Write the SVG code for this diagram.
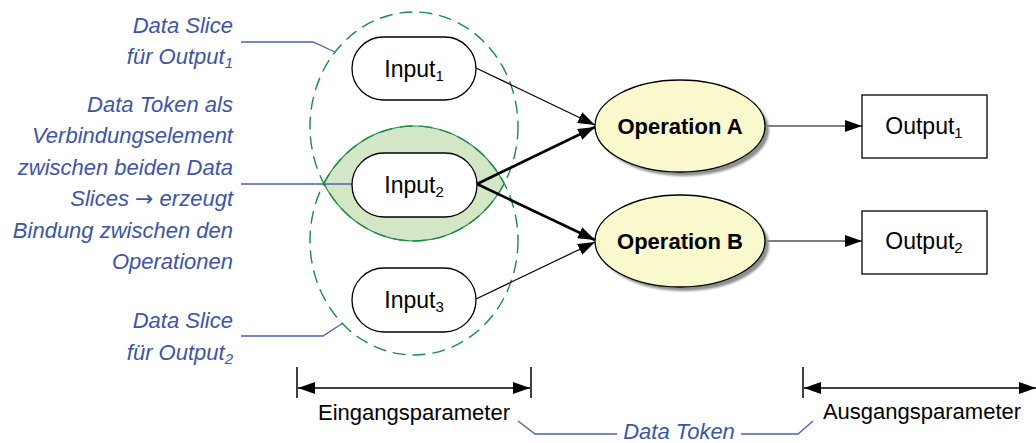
<svg xmlns="http://www.w3.org/2000/svg" width="1036" height="443" viewBox="0 0 1036 443">
  <style>
    .lbl { font-family: "Liberation Sans", Arial, sans-serif; font-size: 22px; font-style: italic; fill: #3C55A5; text-anchor: end; }
    .note { font-family: "Liberation Sans", Arial, sans-serif; font-size: 22px; font-style: italic; fill: #3C55A5; text-anchor: middle; }
    .txt { font-family: "Liberation Sans", Arial, sans-serif; font-size: 23px; fill: #000; text-anchor: middle; }
    .dimtxt { font-family: "Liberation Sans", Arial, sans-serif; font-size: 22px; fill: #000; text-anchor: middle; }
    .bold { font-family: "Liberation Sans", Arial, sans-serif; font-size: 22px; font-weight: bold; fill: #000; text-anchor: middle; }
    .sub { font-size: 15px; }
    .arr { font-family: "DejaVu Sans", sans-serif; font-style: normal; }
    .leader { fill: none; stroke: #4A62B0; stroke-width: 1.3; }
    .slice { fill: none; stroke: #1B8B47; stroke-width: 1.4; stroke-dasharray: 13 7; }
    .token { fill: #D3E7C6; stroke: #2A8C4A; stroke-width: 1.2; }
    .input { fill: #fff; stroke: #000; stroke-width: 1.3; }
    .op { fill: #FAF8CD; stroke: #000; stroke-width: 1.3; }
    .shadow { fill: #8E8E8E; }
    .out { fill: #fff; stroke: #000; stroke-width: 1.3; }
    .edge { fill: none; stroke: #000; stroke-width: 1.2; }
    .edge-bold { fill: none; stroke: #000; stroke-width: 2.6; }
    .dim { fill: none; stroke: #000; stroke-width: 1.5; }
  </style>
  <defs>
    <marker id="arrow" viewBox="0 0 17 12" refX="17" refY="6" markerWidth="17" markerHeight="12" markerUnits="userSpaceOnUse" orient="auto">
      <path d="M0,0 L17,6 L0,12 z" fill="#000"/>
    </marker>
    <marker id="arrowStart" viewBox="0 0 17 12" refX="0" refY="6" markerWidth="17" markerHeight="12" markerUnits="userSpaceOnUse" orient="auto">
      <path d="M17,0 L0,6 L17,12 z" fill="#000"/>
    </marker>
    <filter id="soft" x="-10%" y="-10%" width="120%" height="120%">
      <feGaussianBlur stdDeviation="0.8"/>
    </filter>
  </defs>

  <!-- annotation texts -->
  <g id="label-slice1">
    <text class="lbl" x="233" y="33">Data Slice</text>
    <text class="lbl" x="233" y="64">für Output<tspan class="sub" dy="4">1</tspan></text>
  </g>
  <g id="label-token">
    <text class="lbl" x="233" y="112">Data Token als</text>
    <text class="lbl" x="233" y="143">Verbindungselement</text>
    <text class="lbl" x="233" y="175">zwischen beiden Data</text>
    <text class="lbl" x="233" y="206">Slices <tspan class="arr">→</tspan> erzeugt</text>
    <text class="lbl" x="233" y="238">Bindung zwischen den</text>
    <text class="lbl" x="233" y="269">Operationen</text>
  </g>
  <g id="label-slice2">
    <text class="lbl" x="233" y="328">Data Slice</text>
    <text class="lbl" x="233" y="360">für Output<tspan class="sub" dy="4">2</tspan></text>
  </g>

  <!-- shared data token region (intersection of both slices) -->
  <g id="token-region">
    <path class="token" d="M323.8,183.5 A104,114.5 0 0 1 504.2,183.5 A104,114.5 0 0 1 323.8,183.5 Z"/>
  </g>

  <!-- leader lines -->
  <g id="leaders">
    <polyline class="leader" points="241,42 313,42 335,52"/>
    <polyline class="leader" points="241,184 352,184"/>
    <polyline class="leader" points="241,336 323,336 343,323"/>
    <polyline class="leader" points="518,421 535,434 617,434"/>
    <polyline class="leader" points="741,434 798,434 813,421"/>
  </g>

  <!-- data slices -->
  <g id="slice1">
    <ellipse class="slice" cx="414" cy="126.5" rx="104" ry="114.5"/>
  </g>
  <g id="slice2">
    <ellipse class="slice" cx="414" cy="240.5" rx="104" ry="114.5"/>
  </g>

  <!-- connectors -->
  <g id="connectors">
    <line class="edge" x1="476" y1="68" x2="595" y2="125" marker-end="url(#arrow)"/>
    <line class="edge-bold" x1="477" y1="184" x2="595" y2="127" marker-end="url(#arrow)"/>
    <line class="edge-bold" x1="477" y1="184" x2="595" y2="240" marker-end="url(#arrow)"/>
    <line class="edge" x1="476" y1="299" x2="595" y2="242" marker-end="url(#arrow)"/>
    <line class="edge" x1="765" y1="126" x2="862" y2="126" marker-end="url(#arrow)"/>
    <line class="edge" x1="765" y1="241" x2="862" y2="241" marker-end="url(#arrow)"/>
  </g>

  <!-- input parameters -->
  <g id="input1">
    <rect class="input" x="352" y="37" width="124" height="63" rx="31.5"/>
    <text class="txt" x="414" y="77">Input<tspan class="sub" dy="4">1</tspan></text>
  </g>
  <g id="input2">
    <rect class="input" x="352" y="153" width="125" height="64" rx="32"/>
    <text class="txt" x="414" y="193">Input<tspan class="sub" dy="4">2</tspan></text>
  </g>
  <g id="input3">
    <rect class="input" x="352" y="268" width="124" height="64" rx="32"/>
    <text class="txt" x="414" y="308">Input<tspan class="sub" dy="4">3</tspan></text>
  </g>

  <!-- operations -->
  <g id="operationA">
    <ellipse class="shadow" cx="684" cy="130" rx="85" ry="46" filter="url(#soft)"/>
    <ellipse class="op" cx="680" cy="126" rx="85" ry="46"/>
    <text class="bold" x="680" y="134">Operation A</text>
  </g>
  <g id="operationB">
    <ellipse class="shadow" cx="684" cy="245" rx="85" ry="46" filter="url(#soft)"/>
    <ellipse class="op" cx="680" cy="241" rx="85" ry="46"/>
    <text class="bold" x="680" y="249">Operation B</text>
  </g>

  <!-- outputs -->
  <g id="output1">
    <rect class="out" x="862" y="95" width="125" height="63"/>
    <text class="txt" x="924" y="134">Output<tspan class="sub" dy="4">1</tspan></text>
  </g>
  <g id="output2">
    <rect class="out" x="862" y="211" width="125" height="63"/>
    <text class="txt" x="924" y="249">Output<tspan class="sub" dy="4">2</tspan></text>
  </g>

  <!-- parameter ranges -->
  <g id="range-input">
    <line class="dim" x1="297" y1="367" x2="297" y2="398"/>
    <line class="dim" x1="531" y1="367" x2="531" y2="398"/>
    <line class="dim" x1="298" y1="388" x2="530" y2="388" marker-start="url(#arrowStart)" marker-end="url(#arrow)"/>
    <text class="dimtxt" x="414" y="420">Eingangsparameter</text>
  </g>
  <g id="range-output">
    <line class="dim" x1="803" y1="367" x2="803" y2="398"/>
    <line class="dim" x1="804" y1="388" x2="1036" y2="388" marker-start="url(#arrowStart)" marker-end="url(#arrow)"/>
    <text class="dimtxt" x="922" y="419">Ausgangsparameter</text>
  </g>
  <g id="label-datatoken">
    <text class="note" x="679" y="439">Data Token</text>
  </g>
</svg>
